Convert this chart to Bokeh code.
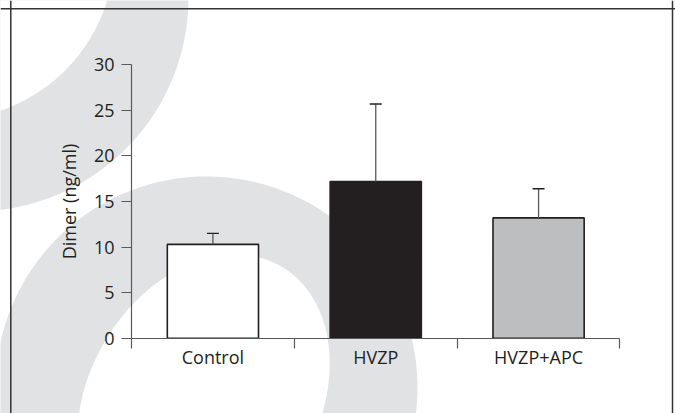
import numpy as np
from bokeh.plotting import figure
from bokeh.models import (Range1d, LinearAxis, FixedTicker, Span, Whisker,
                          TeeHead, ColumnDataSource)
from bokeh.embed import file_html
from bokeh.resources import INLINE

# ---------------- data ----------------
categories = ["Control", "HVZP", "HVZP+APC"]
dimer_mean = [10.3, 17.2, 13.2]
dimer_err = [1.2, 8.5, 3.2]
bar_colors = ["#ffffff", "#231f20", "#bcbec0"]
y_ticks = [0, 5, 10, 15, 20, 25, 30]

# ---------------- layout geometry (canvas px) ----------------
W, H = 675, 413
X_EDGE_PX = 131.0     # px of first category boundary
BAND_PX = 162.83      # px per category band
Y0_PX = 337.7         # px of y = 0
UNIT_PX = 9.113       # px per y unit


def xd(px):
    return (px - X_EDGE_PX) / BAND_PX


def yd(py):
    return (Y0_PX - py) / UNIT_PX


p = figure(width=W, height=H,
           x_range=Range1d(xd(0), xd(W)), y_range=Range1d(yd(H), yd(0)),
           x_axis_type=None, y_axis_type=None,
           toolbar_location=None, output_backend="svg",
           min_border=0, outline_line_color=None,
           background_fill_color="white", border_fill_color="white")

# ---------------- background watermark (decorative) ----------------
WM = "#e1e2e4"
wm_shapes = [  # px: cx, cy, a, b, angle(deg), colour
    (-26, -3, 214, 214, 0, WM),
    (-54, -49, 168, 168, 0, "white"),
    (206, 387, 211, 211, 0, WM),
    (203, 400, 155, 115, 60, "white"),
]
t = np.linspace(0, 2 * np.pi, 240)
for cx, cy, a, b, ang, col in wm_shapes:
    phi = np.radians(ang)
    u, v = a * np.cos(t), b * np.sin(t)
    px = cx + u * np.cos(phi) + v * np.sin(phi)
    py = cy - u * np.sin(phi) + v * np.cos(phi)
    p.patch([xd(q) for q in px], [yd(q) for q in py],
            fill_color=col, line_color=None)

# ---------------- bars ----------------
centers = [i + 0.5 for i in range(len(categories))]
edges = [float(i) for i in range(len(categories) + 1)]
src = ColumnDataSource(dict(
    x=centers, top=dimer_mean, color=bar_colors,
    upper=[m + e for m, e in zip(dimer_mean, dimer_err)],
))
p.vbar(x="x", top="top", bottom=0, width=0.56, source=src,
       fill_color="color", line_color="#231f20", line_width=1.6)

p.add_layout(Whisker(base="x", lower="top", upper="upper", source=src,
                     dimension="height", line_color="#58595b", line_width=1.3,
                     upper_head=TeeHead(size=12, line_color="#231f20", line_width=1.3),
                     lower_head=None, level="glyph"))

# ---------------- axes ----------------
TXT = "#231f20"
AX = "#58595b"
yaxis = LinearAxis(
    fixed_location=0, bounds=(0, 30),
    ticker=FixedTicker(ticks=y_ticks, minor_ticks=[]),
    axis_label="Dimer (ng/ml)",
    axis_label_text_font="Open Sans", axis_label_text_font_size="18px",
    axis_label_text_font_style="normal", axis_label_text_color=TXT,
    axis_label_standoff=10,
    major_label_text_font="Open Sans", major_label_text_font_size="18px",
    major_label_text_color=TXT, major_label_standoff=7,
    major_tick_in=0, major_tick_out=10, major_tick_line_color=AX,
    major_tick_line_width=1.2,
    minor_tick_line_color=None,
    axis_line_color=AX, axis_line_width=1.2,
)
p.add_layout(yaxis, "left")

xaxis = LinearAxis(
    fixed_location=0, bounds=(0, len(categories)),
    ticker=FixedTicker(ticks=centers, minor_ticks=edges),
    major_label_overrides={c: name for c, name in zip(centers, categories)},
    major_label_text_font="Open Sans", major_label_text_font_size="18px",
    major_label_text_color=TXT, major_label_standoff=-3,
    major_tick_in=0, major_tick_out=0, major_tick_line_color=None,
    minor_tick_in=0, minor_tick_out=10, minor_tick_line_color=AX,
    minor_tick_line_width=1.2,
    axis_line_color=AX, axis_line_width=1.2,
)
p.add_layout(xaxis, "below")

# ---------------- outer frame lines ----------------
BORDER = "#333333"
p.add_layout(Span(location=xd(10.3), dimension="height", line_color=BORDER, line_width=1.5))
p.add_layout(Span(location=xd(672.0), dimension="height", line_color=BORDER, line_width=1.5))
p.add_layout(Span(location=yd(8.3), dimension="width", line_color=BORDER, line_width=1.5))

open("out.html", "w").write(file_html(p, INLINE, title="Dimer"))
